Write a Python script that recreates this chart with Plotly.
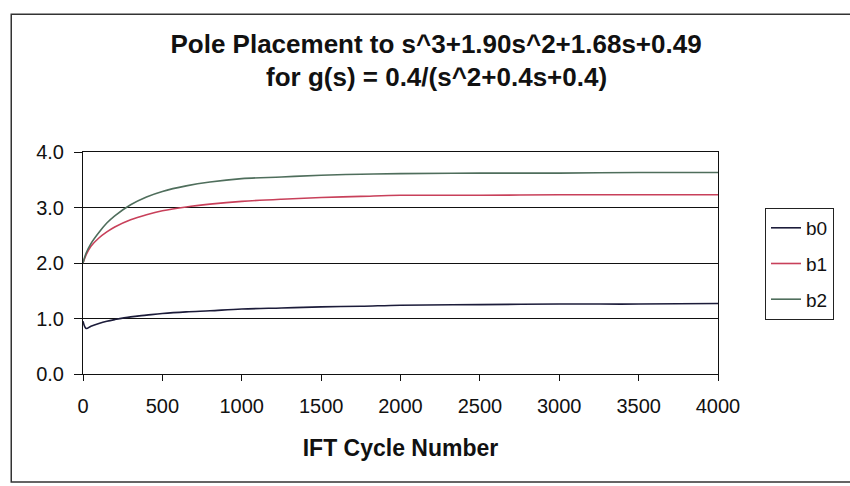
import plotly.graph_objects as go

cycles = [0, 20, 50, 100, 150, 200, 300, 400, 500, 650, 800, 1000, 1250, 1500, 1750, 2000, 2500, 3000, 3500, 4000]
b0 = [0.95, 0.82, 0.86, 0.91, 0.95, 0.98, 1.03, 1.06, 1.09, 1.12, 1.14, 1.17, 1.19, 1.21, 1.22, 1.24, 1.25, 1.26, 1.26, 1.27]
b1 = [2.0, 2.15, 2.3, 2.45, 2.56, 2.65, 2.78, 2.87, 2.94, 3.01, 3.06, 3.11, 3.15, 3.18, 3.2, 3.22, 3.22, 3.23, 3.23, 3.23]
b2 = [2.0, 2.18, 2.35, 2.55, 2.72, 2.85, 3.05, 3.19, 3.29, 3.39, 3.46, 3.52, 3.55, 3.58, 3.6, 3.61, 3.62, 3.62, 3.63, 3.63]
names = ["b0", "b1", "b2"]
colors = ["#1c1c3a", "#c8405a", "#4f6e5c"]

x_ticks = [0, 500, 1000, 1500, 2000, 2500, 3000, 3500, 4000]
y_ticks = [0, 1, 2, 3, 4]

title_line1 = "Pole Placement to s^3+1.90s^2+1.68s+0.49"
title_line2 = "for g(s) = 0.4/(s^2+0.4s+0.4)"
x_title = "IFT Cycle Number"

fig = go.Figure()
for name, ys, c in zip(names, [b0, b1, b2], colors):
    fig.add_trace(go.Scatter(x=cycles, y=ys, mode="lines", name=name, legendgroup=name,
                             line=dict(color=c, width=1.6, shape="spline")))

font_family = "Liberation Sans, Arial, sans-serif"

fig.update_layout(
    width=850, height=486,
    margin=dict(l=83, r=132, t=152, b=112),
    paper_bgcolor="white", plot_bgcolor="white",
    font=dict(family=font_family, color="#111111"),
    title=dict(text="<b>" + title_line1 + "</b>", x=0.513, xanchor="center",
               y=1 - 44 / 486, yanchor="middle", font=dict(size=26, family=font_family)),
    annotations=[dict(text="<b>" + title_line2 + "</b>", xref="paper", yref="paper",
                      x=0.557, y=(374 - 77) / 222, xanchor="center", yanchor="middle",
                      showarrow=False, font=dict(size=26, family=font_family))],
    showlegend=True,
    legend=dict(x=1.074, y=0.748, xanchor="left", yanchor="top",
                bordercolor="#222222", borderwidth=1, bgcolor="white",
                font=dict(size=19, family=font_family), tracegroupgap=8,
                itemwidth=30),
    xaxis=dict(range=[0, 4000], tickvals=x_ticks, showgrid=False,
               showline=True, linecolor="#111111", linewidth=1, mirror=True,
               ticks="outside", ticklen=6, tickcolor="#111111",
               tickfont=dict(size=20), zeroline=False, ticklabelstandoff=8,
               title=dict(text="<b>" + x_title + "</b>", font=dict(size=23), standoff=23)),
    yaxis=dict(range=[0, 4], tickvals=y_ticks, tickformat=".1f",
               showgrid=True, gridcolor="#111111", gridwidth=1,
               showline=True, linecolor="#111111", linewidth=1, mirror=True,
               ticks="outside", ticklen=8, tickcolor="#111111",
               tickfont=dict(size=20), zeroline=False, ticklabelstandoff=6),
    shapes=[dict(type="rect", xref="paper", yref="paper",
                 x0=-0.113, x1=1.5, y0=-0.486, y1=1.62,
                 line=dict(color="#333333", width=1.5), layer="below")],
)

fig.write_html("out.html")
